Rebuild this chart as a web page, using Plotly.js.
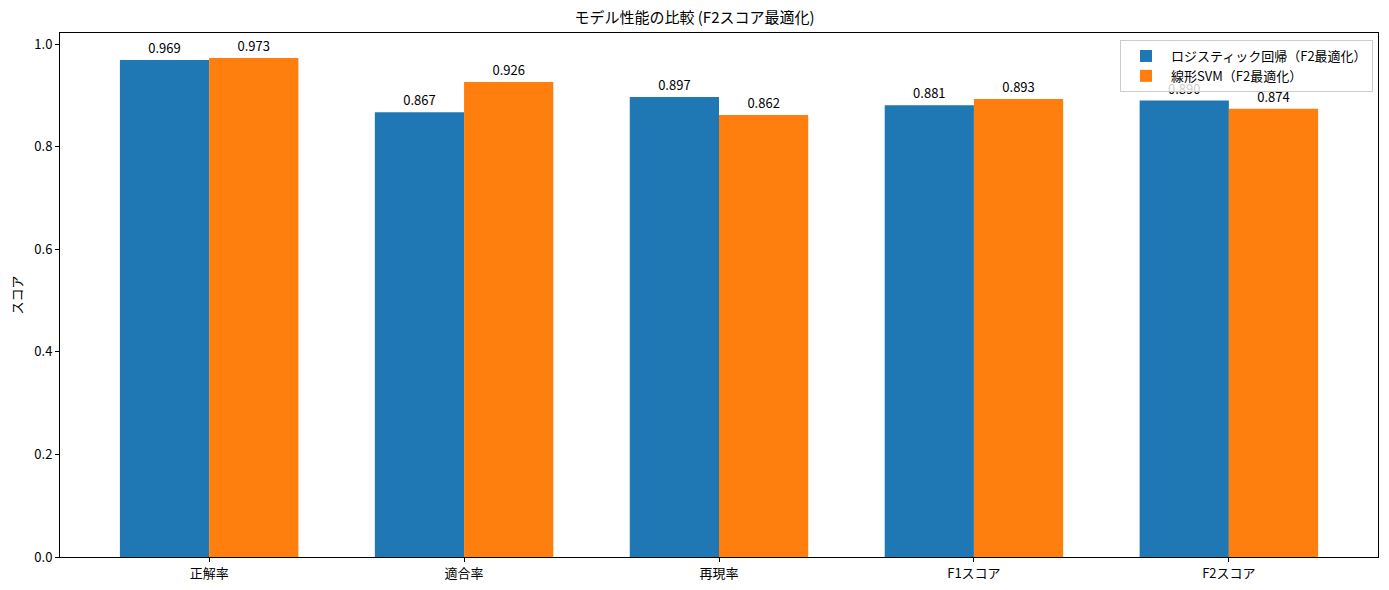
<!DOCTYPE html>
<html>
<head>
<meta charset="utf-8">
<script src="https://cdn.plot.ly/plotly-3.0.1.min.js"></script>
<style>html,body{margin:0;padding:0;background:#fff;}#chart{width:1389px;height:590px;}</style>
</head>
<body>
<div id="chart"></div>
<script>
const categories = ["正解率", "適合率", "再現率", "F1スコア", "F2スコア"];
const logisticScores = [0.969, 0.867, 0.897, 0.881, 0.890];
const svmScores = [0.973, 0.926, 0.862, 0.893, 0.874];
const seriesNames = ["ロジスティック回帰（F2最適化）", "線形SVM（F2最適化）"];
const yTicks = [0.0, 0.2, 0.4, 0.6, 0.8, 1.0];

const font = "Noto Sans CJK JP, DejaVu Sans, sans-serif";
const traces = [
  {type: "bar", name: seriesNames[0], x: categories, y: logisticScores,
   marker: {color: "#1f77b4"}, text: logisticScores.map(v => v.toFixed(3)),
   textposition: "outside", cliponaxis: false, textfont: {size: 13, color: "#000"}},
  {type: "bar", name: seriesNames[1], x: categories, y: svmScores,
   marker: {color: "#ff7f0e"}, text: svmScores.map(v => v.toFixed(3)),
   textposition: "outside", cliponaxis: false, textfont: {size: 13, color: "#000"}}
];
const layout = {
  width: 1389, height: 590,
  margin: {l: 60, r: 11, t: 33, b: 33},
  paper_bgcolor: "#fff", plot_bgcolor: "#fff",
  font: {family: font, size: 13, color: "#000"},
  title: {text: "モデル性能の比較 (F2スコア最適化)", font: {size: 15}, x: 0.5, xanchor: "center", y: 0.97, yanchor: "middle"},
  barmode: "group", bargap: 0.3, bargroupgap: 0,
  xaxis: {type: "category", range: [-0.585, 4.585], showline: true, linecolor: "#000", linewidth: 1, mirror: true,
          ticks: "outside", ticklen: 4, tickcolor: "#000", showgrid: false, zeroline: false},
  yaxis: {range: [0, 1.0217], tickvals: yTicks, ticktext: yTicks.map(v => v.toFixed(1)), showline: true, linecolor: "#000",
          linewidth: 1, mirror: true, ticks: "outside", ticklen: 4, tickcolor: "#000", showgrid: false, zeroline: false,
          title: {text: "スコア", font: {size: 13}, standoff: 8}},
  legend: {x: 0.9962, y: 0.9866, xanchor: "right", yanchor: "top", bgcolor: "rgba(255,255,255,0.8)",
           bordercolor: "#cccccc", borderwidth: 1, font: {size: 13}, tracegroupgap: 0, itemwidth: 40},
  showlegend: true
};
Plotly.newPlot("chart", traces, layout, {displayModeBar: false, staticPlot: true});
</script>
</body>
</html>
